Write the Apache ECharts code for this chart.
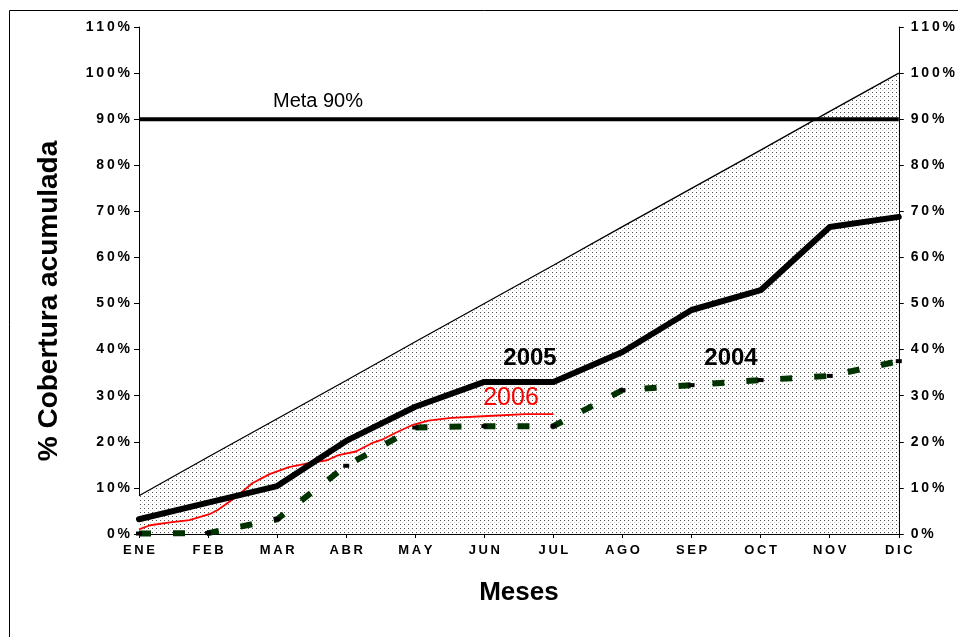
<!DOCTYPE html>
<html>
<head>
<meta charset="utf-8">
<script src="https://cdn.jsdelivr.net/npm/echarts@6/dist/echarts.min.js"></script>
<style>
html,body{margin:0;padding:0;background:#fff;}
#chart{width:958px;height:637px;}
</style>
</head>
<body>
<div id="chart"></div>
<script>
// ---- data ----
var meses = ['ENE','FEB','MAR','ABR','MAY','JUN','JUL','AGO','SEP','OCT','NOV','DIC'];
var yTicks = [0,10,20,30,40,50,60,70,80,90,100,110];
var esperado = [8.3,16.7,25,33.3,41.7,50,58.3,66.7,75,83.3,91.7,100];
var meta = [90,90,90,90,90,90,90,90,90,90,90,90];
var y2005 = [3.2,6.8,10.4,20.2,27.6,33.0,33.0,39.5,48.6,52.9,66.6,68.8];
var y2004 = [0.1,0.2,3.2,14.8,23.1,23.4,23.4,31.2,32.3,33.4,34.3,37.5];
var x2006 = [0,0.16,0.45,0.73,1.02,1.14,1.41,1.64,1.89,2.17,2.46,2.72,2.89,3.14,3.37,3.51,3.71,3.95,4.19,4.52,5.05,5.59,6.0];
var y2006 = [1.0,1.9,2.5,3.0,4.3,5.2,8.1,11.0,13.0,14.5,15.4,16.0,17.1,17.9,19.7,20.4,21.9,23.6,24.6,25.2,25.6,26.0,26.0];

var FONT = '"Liberation Sans", Arial, sans-serif';
var TS = '\u2009';
function spaced(s){ return s.split('').join(TS); }

// dotted fill pattern
var pat = document.createElement('canvas');
pat.width = 4; pat.height = 4;
var pc = pat.getContext('2d');
pc.fillStyle = '#ffffff'; pc.fillRect(0,0,4,4);
pc.fillStyle = '#4a4a4a'; pc.fillRect(0,0,1,1);
pc.fillStyle = '#d0d0d0'; pc.fillRect(2,2,1,1);

var chart = echarts.init(document.getElementById('chart'), null, {renderer:'canvas'});

var pts2006 = x2006.map(function(x,i){ return [x, y2006[i]]; });

var yAxisCommon = {
  type:'value', min:0, max:110, interval:10,
  splitLine:{show:false},
  axisLine:{show:true, lineStyle:{color:'#000', width:1}},
  axisTick:{show:true, length:5, lineStyle:{color:'#000'}},
  axisLabel:{fontFamily:FONT, fontWeight:'bold', fontSize:14, color:'#000', margin:9,
    formatter:function(v){ return spaced(String(v)) + TS + '%'; }}
};

chart.setOption({
  animation:false,
  backgroundColor:'#fff',
  grid:{left:139, right:55, top:27, bottom:103, containLabel:false},
  xAxis:[{
    type:'category', data:meses, boundaryGap:false,
    axisLine:{lineStyle:{color:'#000', width:1}},
    axisTick:{show:true, alignWithLabel:true, length:4, lineStyle:{color:'#000'}},
    axisLabel:{fontFamily:FONT, fontWeight:'bold', fontSize:13, color:'#000', margin:10,
      formatter:function(v){ return spaced(v); }},
    splitLine:{show:false},
    name:'Meses', nameLocation:'middle', nameGap:46,
    nameTextStyle:{fontFamily:FONT, fontWeight:'bold', fontSize:26, color:'#000'}
  },{
    type:'value', min:0, max:11, show:false
  }],
  yAxis:[
    Object.assign({}, yAxisCommon, {position:'left'}),
    Object.assign({}, yAxisCommon, {position:'right', axisLabel:Object.assign({}, yAxisCommon.axisLabel, {margin:12})})
  ],
  graphic:[
    {type:'rect', z:100, shape:{x:9.5, y:10.5, width:1000, height:700}, style:{fill:null, stroke:'#000', lineWidth:1}, silent:true},
    {type:'text', z:100, x:49, y:301, rotation:Math.PI/2,
      style:{text:'% Cobertura acumulada', font:'bold 28px '+FONT, fill:'#000', align:'center', verticalAlign:'middle'}},
    {type:'text', z:100, x:318, y:101, style:{text:'Meta 90%', font:'20px '+FONT, fill:'#000', align:'center', verticalAlign:'middle'}},
    {type:'text', z:100, x:530, y:358, style:{text:'2005', font:'bold 24px '+FONT, fill:'#000', align:'center', verticalAlign:'middle'}},
    {type:'text', z:100, x:511, y:398, style:{text:'2006', font:'25px '+FONT, fill:'#ff0000', align:'center', verticalAlign:'middle'}},
    {type:'text', z:100, x:731, y:358, style:{text:'2004', font:'bold 24px '+FONT, fill:'#000', align:'center', verticalAlign:'middle'}}
  ],
  series:[
    {name:'Esperado', type:'line', data:esperado, symbol:'none', z:1,
      lineStyle:{color:'#000', width:1.3},
      areaStyle:{color:{image:pat, repeat:'repeat'}, opacity:1}},
    {name:'Meta', type:'line', data:meta, symbol:'none', z:2,
      lineStyle:{color:'#000', width:4}},
    {name:'2004', type:'line', data:y2004, z:3,
      symbol:'rect', symbolSize:[6,4], itemStyle:{color:'#000'},
      lineStyle:{color:'#003300', width:6, type:[12,22], cap:'butt'}},
    {name:'2006', type:'line', xAxisIndex:1, data:pts2006, symbol:'none', z:4,
      lineStyle:{color:'#ff0000', width:1.8}},
    {name:'2005', type:'line', data:y2005, symbol:'none', z:5,
      lineStyle:{color:'#000', width:6, join:'round', cap:'round'}}
  ]
});
</script>
</body>
</html>
